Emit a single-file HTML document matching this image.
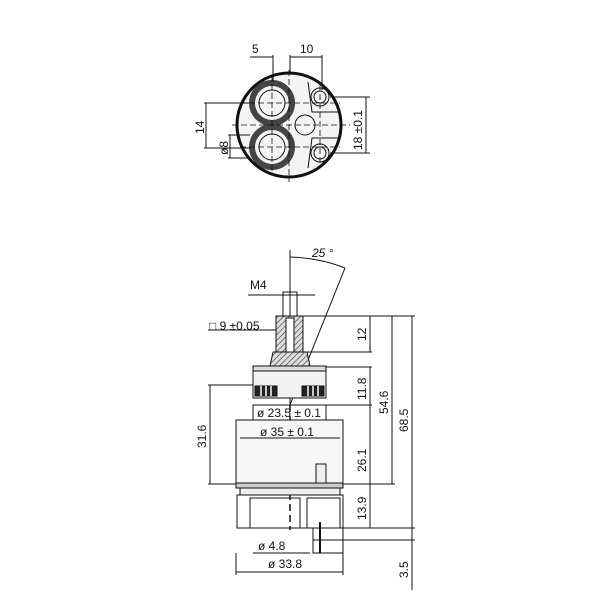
<!DOCTYPE html>
<html><head><style>body{margin:0;background:#fff}svg{display:block}text{font-family:"Liberation Sans",sans-serif;font-size:12px;fill:#111}</style></head>
<body>
<svg width="600" height="600" viewBox="0 0 600 600" xmlns="http://www.w3.org/2000/svg">
<defs>
<pattern id="h" width="4" height="4" patternUnits="userSpaceOnUse" patternTransform="rotate(45)"><rect width="4" height="4" fill="#ddd"/><line x1="0" y1="0" x2="0" y2="4" stroke="#333" stroke-width="1.2"/></pattern>
</defs>
<g stroke="#111" fill="none" stroke-width="1">
<!-- top view -->
<circle cx="289" cy="125" r="52" stroke-width="3" fill="#f4f4f4"/>
<circle cx="272" cy="103" r="20" stroke-width="6" stroke="#444"/>
<circle cx="272" cy="147" r="20" stroke-width="6" stroke="#444"/>
<circle cx="272" cy="103" r="13"/>
<circle cx="272" cy="147" r="13"/>
<circle cx="305" cy="125" r="10"/>
<circle cx="320" cy="97" r="6"/><circle cx="320" cy="97" r="9"/>
<circle cx="320" cy="153" r="6"/><circle cx="320" cy="153" r="9"/>
<path d="M308 82 L312 112 L340 112 M308 168 L312 138 L340 138"/>
<g stroke-dasharray="6,3" stroke-width="0.8">
<line x1="232" y1="125" x2="350" y2="125"/><line x1="289" y1="70" x2="289" y2="182"/>
<line x1="240" y1="103" x2="340" y2="103"/><line x1="240" y1="147" x2="340" y2="147"/>
<line x1="272" y1="75" x2="272" y2="175"/><line x1="320" y1="85" x2="320" y2="165"/>
</g>
<line x1="273" y1="55" x2="273" y2="82"/><line x1="290" y1="55" x2="290" y2="72"/><line x1="322" y1="55" x2="322" y2="90"/>
<line x1="250" y1="57" x2="273" y2="57"/><line x1="290" y1="57" x2="322" y2="57"/>
<line x1="204" y1="103" x2="250" y2="103"/><line x1="204" y1="148" x2="250" y2="148"/><line x1="206" y1="103" x2="206" y2="148"/>
<line x1="228" y1="135" x2="250" y2="135"/><line x1="228" y1="158" x2="250" y2="158"/><line x1="230" y1="135" x2="230" y2="158"/>
<line x1="330" y1="97" x2="370" y2="97"/><line x1="330" y1="153" x2="370" y2="153"/><line x1="366" y1="97" x2="366" y2="153"/>
<!-- side view -->
<line x1="290" y1="250" x2="290" y2="405"/>
<line x1="290" y1="405" x2="290" y2="530" stroke-dasharray="7,4" stroke-width="1.5"/>
<line x1="290" y1="405" x2="345" y2="268"/>
<path d="M290 257 Q320 258 345 268"/>
<rect x="283" y="292" width="14" height="25"/>
<line x1="248" y1="295" x2="315" y2="295"/>
<rect x="276" y="316" width="27" height="36" fill="url(#h)"/>
<rect x="286" y="318" width="8" height="36" fill="#fff"/>
<path d="M273 352 L307 352 L310 366 L270 366 Z" fill="url(#h)"/>
<line x1="208" y1="330" x2="276" y2="330"/>
<rect x="253" y="366" width="73" height="5" fill="#ddd"/>
<rect x="253" y="371" width="73" height="27" fill="#f3f3f3"/>
<rect x="255" y="386" width="22" height="10" fill="#222"/><rect x="302" y="386" width="22" height="10" fill="#222"/>
<g stroke="#fff" stroke-width="1.5"><line x1="261" y1="386" x2="261" y2="396"/><line x1="266" y1="386" x2="266" y2="396"/><line x1="271" y1="386" x2="271" y2="396"/><line x1="308" y1="386" x2="308" y2="396"/><line x1="313" y1="386" x2="313" y2="396"/><line x1="318" y1="386" x2="318" y2="396"/></g>
<rect x="253" y="405" width="73" height="15"/>
<rect x="236" y="420" width="107" height="63" fill="#f6f6f6"/>
<line x1="240" y1="438" x2="340" y2="438"/>
<path d="M316 483 L316 464 L326 464 L326 483" fill="#eee"/>
<rect x="236" y="483" width="107" height="5" fill="#ccc"/>
<rect x="240" y="488" width="100" height="7" fill="#eee"/>
<rect x="237" y="495" width="106" height="33"/>
<rect x="250" y="498" width="50" height="30"/>
<rect x="307" y="498" width="33" height="30"/>
<rect x="313" y="528" width="30" height="25"/>
<line x1="313" y1="540" x2="343" y2="540"/><line x1="320" y1="522" x2="320" y2="553" stroke-width="2"/>
<line x1="253" y1="553" x2="310" y2="553"/>
<line x1="236" y1="553" x2="236" y2="575"/><line x1="343" y1="553" x2="343" y2="575"/>
<line x1="236" y1="572" x2="343" y2="572"/>
<!-- left dim -->
<line x1="208" y1="385" x2="253" y2="385"/><line x1="208" y1="484" x2="236" y2="484"/><line x1="210" y1="385" x2="210" y2="484"/>
<!-- right dims -->
<line x1="303" y1="316" x2="415" y2="316"/>
<line x1="307" y1="352" x2="372" y2="352"/>
<line x1="326" y1="367" x2="372" y2="367"/>
<line x1="326" y1="405" x2="372" y2="405"/>
<line x1="343" y1="484" x2="395" y2="484"/>
<line x1="340" y1="528" x2="415" y2="528"/>
<line x1="343" y1="540" x2="415" y2="540"/>
<line x1="370" y1="316" x2="370" y2="352"/>
<line x1="370" y1="367" x2="370" y2="528"/>
<line x1="392" y1="316" x2="392" y2="484"/>
<line x1="412" y1="316" x2="412" y2="590"/>
</g>
<text x="252" y="53">5</text><text x="300" y="53">10</text>
<text transform="translate(204,134) rotate(-90)">14</text>
<text transform="translate(228,155) rotate(-90)">ø8</text>
<text transform="translate(362,150) rotate(-90)">18 ±0.1</text>
<text x="312" y="257" font-style="italic">25 °</text>
<text x="250" y="289">M4</text>
<text x="209" y="330">□ 9 ±0.05</text>
<text x="257" y="417">ø 23.5 ± 0.1</text>
<text x="260" y="436">ø 35 ± 0.1</text>
<text transform="translate(206,448) rotate(-90)">31.6</text>
<text transform="translate(366,341) rotate(-90)">12</text>
<text transform="translate(366,400) rotate(-90)">11.8</text>
<text transform="translate(366,472) rotate(-90)">26.1</text>
<text transform="translate(366,520) rotate(-90)">13.9</text>
<text transform="translate(388,414) rotate(-90)">54.6</text>
<text transform="translate(408,432) rotate(-90)">68.5</text>
<text transform="translate(408,578) rotate(-90)">3.5</text>
<text x="258" y="550">ø 4.8</text>
<text x="268" y="568">ø 33.8</text>
</svg>
</body></html>
